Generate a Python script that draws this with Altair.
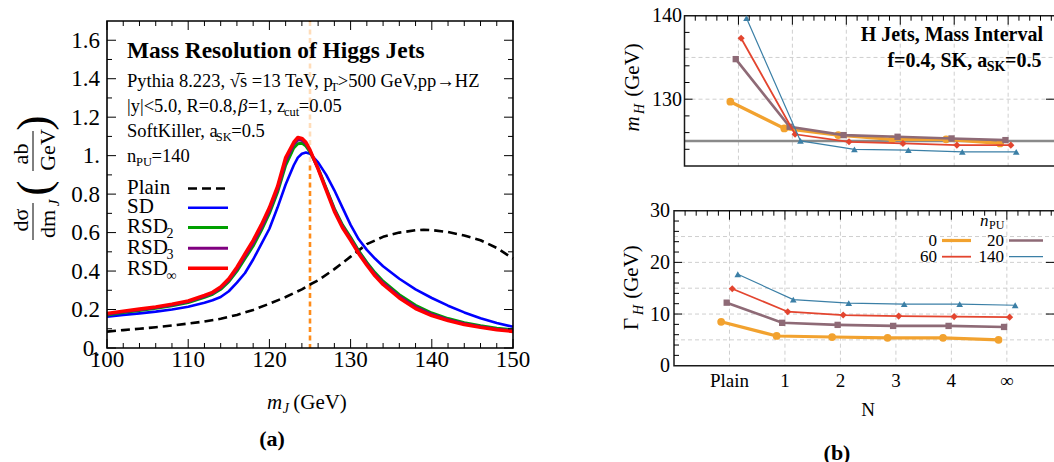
import altair as alt
import pandas as pd

SERIF = "Liberation Serif"

# ---------------- panel (a): jet mass spectra, n_PU = 140 ----------------
m_grid = [100, 102, 104, 106, 108, 110, 112, 113, 114, 115, 116, 117, 118, 119,
          120, 121, 122, 123, 123.5, 124, 124.5, 125, 126, 127, 128, 129, 130,
          131, 132, 133, 134, 136, 138, 140, 142, 144, 146, 148, 150]
sd = [0.163, 0.172, 0.180, 0.189, 0.200, 0.214, 0.235, 0.248, 0.265, 0.295, 0.340, 0.390, 0.460, 0.540,
      0.620, 0.730, 0.850, 0.950, 0.990, 1.010, 1.016, 1.010, 0.965, 0.900, 0.820, 0.730, 0.640,
      0.565, 0.510, 0.465, 0.425, 0.360, 0.305, 0.260, 0.220, 0.185, 0.155, 0.130, 0.110]
rsd2 = [0.172, 0.184, 0.195, 0.206, 0.219, 0.236, 0.263, 0.279, 0.305, 0.345, 0.400, 0.465, 0.530, 0.610,
        0.700, 0.810, 0.950, 1.040, 1.062, 1.065, 1.050, 1.020, 0.935, 0.830, 0.725, 0.640, 0.575,
        0.505, 0.445, 0.392, 0.347, 0.277, 0.222, 0.182, 0.153, 0.132, 0.116, 0.103, 0.094]
rsd3 = [0.176, 0.188, 0.199, 0.210, 0.224, 0.241, 0.269, 0.285, 0.312, 0.353, 0.410, 0.478, 0.545, 0.625,
        0.715, 0.825, 0.970, 1.060, 1.082, 1.080, 1.062, 1.026, 0.932, 0.825, 0.718, 0.632, 0.566,
        0.497, 0.437, 0.383, 0.338, 0.268, 0.213, 0.175, 0.147, 0.126, 0.111, 0.098, 0.090]
rsd_inf = [0.180, 0.192, 0.203, 0.214, 0.228, 0.245, 0.274, 0.290, 0.318, 0.360, 0.420, 0.490, 0.560, 0.640,
           0.730, 0.840, 0.990, 1.070, 1.095, 1.090, 1.070, 1.030, 0.930, 0.820, 0.710, 0.625, 0.560,
           0.490, 0.430, 0.375, 0.330, 0.260, 0.205, 0.168, 0.142, 0.122, 0.107, 0.095, 0.086]
m_plain = [100, 102, 104, 106, 108, 110, 112, 114, 116, 118, 120, 122, 124, 125, 126,
           128, 130, 132, 134, 136, 138, 139, 140, 142, 144, 146, 148, 150]
plain = [0.085, 0.093, 0.100, 0.108, 0.117, 0.127, 0.138, 0.152, 0.172, 0.198, 0.230, 0.265, 0.305, 0.330, 0.352,
         0.410, 0.475, 0.540, 0.578, 0.600, 0.612, 0.615, 0.613, 0.603, 0.585, 0.560, 0.520, 0.465]
m_higgs = 125.0

a_x_major = [100, 110, 120, 130, 140, 150]
a_x_labels = ["100", "110", "120", "130", "140", "150"]
a_x_minor = [102, 104, 106, 108, 112, 114, 116, 118, 122, 124, 126, 128,
             132, 134, 136, 138, 142, 144, 146, 148]
a_y_major = [0, 0.2, 0.4, 0.6, 0.8, 1.0, 1.2, 1.4, 1.6]
a_y_labels = ["0.", "0.2", "0.4", "0.6", "0.8", "1.", "1.2", "1.4", "1.6"]
a_y_minor = [0.1, 0.3, 0.5, 0.7, 0.9, 1.1, 1.3, 1.5]

# ---------------- panel (b): fitted peak position and width ----------------
n_labels = ["Plain", "1", "2", "3", "4", "∞"]
pileup = ["0", "20", "60", "140"]
peak_mass = {
    "0":   [129.7, 126.5, 125.7, 125.2, 125.2, 124.7],
    "20":  [134.8, 126.7, 125.7, 125.5, 125.3, 125.1],
    "60":  [137.3, 125.8, 124.9, 124.7, 124.5, 124.5],
    "140": [139.7, 125.0, 124.0, 123.9, 123.7, 123.7],
}
peak_width = {
    "0":   [8.5, 5.75, 5.55, 5.4, 5.4, 5.0],
    "20":  [12.2, 8.3, 7.9, 7.7, 7.7, 7.5],
    "60":  [14.9, 10.45, 9.8, 9.6, 9.5, 9.4],
    "140": [17.7, 12.8, 12.1, 11.9, 11.9, 11.7],
}
m_ref = 125.0
top_y_labels = [130, 140]
top_grid = [130, 135]
bot_y_labels = [0, 10, 20, 30]
bot_grid = [5, 10, 15, 20, 25]

# marker / line style for each pile-up level
style = {
    "0":   dict(color="#F2A22F", width=3.2, shape="circle", size=60, dx=-0.15),
    "20":  dict(color="#8E6A76", width=2.6, shape="square", size=40, dx=-0.05),
    "60":  dict(color="#E3452F", width=1.8, shape="diamond", size=50, dx=0.05),
    "140": dict(color="#3B7FA6", width=1.2, shape="triangle-up", size=45, dx=0.15),
}

# ---------------- text helpers ----------------
_W = {" ": 250, "|": 200, "<": 564, ">": 564, "=": 564, ".": 250, ",": 250, "(": 333, ")": 333,
      "√": 549, "β": 549, "σ": 549, "→": 1000, "∞": 713, "Γ": 578}
_W.update(zip("ABCDEFGHIJKLMNOPQRSTUVWXYZ",
              [722, 667, 667, 722, 611, 556, 722, 722, 333, 389, 722, 611, 889, 722, 722, 556,
               722, 667, 556, 611, 722, 722, 944, 722, 722, 611]))
_W.update(zip("abcdefghijklmnopqrstuvwxyz",
              [444, 500, 444, 500, 444, 333, 500, 500, 278, 278, 500, 278, 778, 500, 500, 500,
               500, 333, 389, 278, 500, 500, 722, 500, 500, 444]))


def text_width(s, size, bold=False):
    return sum(_W.get(ch, 500) for ch in s) / 1000.0 * size * (1.02 if bold else 0.97)


def one_row():
    return pd.DataFrame({"k": [0]})


def label(s, x, y, size, align="left", baseline="alphabetic", angle=0,
          italic=False, bold=False, color="black", weight=None):
    kw = dict(font=SERIF, fontSize=size, align=align, baseline=baseline, color=color)
    if angle:
        kw["angle"] = angle
    if italic:
        kw["fontStyle"] = "italic"
    if bold:
        kw["fontWeight"] = "bold"
    elif weight is not None:
        kw["fontWeight"] = weight
    return alt.Chart(pd.DataFrame({"t": [s]})).mark_text(**kw).encode(
        x=alt.value(x), y=alt.value(y), text="t:N")


def rich(parts, x, y, anchor="left"):
    """parts: (text, size, drop, italic, bold) pieces set on one baseline."""
    widths = [text_width(p[0], p[1], p[4]) for p in parts]
    cur = x - sum(widths) if anchor == "right" else x
    out = []
    for (s, size, drop, it, bd), w in zip(parts, widths):
        lead = len(s) - len(s.lstrip())
        out.append(label(s.strip(), cur + text_width(" " * lead, size, bd), y + drop, size,
                         italic=it, bold=bd))
        cur += w
    return out


def seg(x1, x2, y1, y2, color="black", width=1.0, dash=None):
    kw = dict(color=color, strokeWidth=width)
    if dash:
        kw["strokeDash"] = dash
    return alt.Chart(one_row()).mark_rule(**kw).encode(
        x=alt.value(x1), x2=alt.value(x2), y=alt.value(y1), y2=alt.value(y2))


def frame(x1, x2, y1, y2, color="black", width=1.5):
    return alt.Chart(one_row()).mark_rect(fillOpacity=0, stroke=color, strokeWidth=width).encode(
        x=alt.value(x1), x2=alt.value(x2), y=alt.value(y1), y2=alt.value(y2))


def ticks_x(vals, scale, y1, y2, color="black", width=1.0, dash=None):
    kw = dict(color=color, strokeWidth=width)
    if dash:
        kw["strokeDash"] = dash
    return alt.Chart(pd.DataFrame({"v": vals})).mark_rule(**kw).encode(
        x=alt.X("v:Q", scale=scale, axis=None), y=alt.value(y1), y2=alt.value(y2))


def ticks_y(vals, scale, x1, x2, color="black", width=1.0, dash=None):
    kw = dict(color=color, strokeWidth=width)
    if dash:
        kw["strokeDash"] = dash
    return alt.Chart(pd.DataFrame({"v": vals})).mark_rule(**kw).encode(
        y=alt.Y("v:Q", scale=scale, axis=None), x=alt.value(x1), x2=alt.value(x2))


def labels_x(vals, texts, scale, y, size):
    return alt.Chart(pd.DataFrame({"v": vals, "t": texts})).mark_text(
        font=SERIF, fontSize=size, align="center", baseline="alphabetic", color="black").encode(
        x=alt.X("v:Q", scale=scale, axis=None), y=alt.value(y), text="t:N")


def labels_y(vals, texts, scale, x, size, drop):
    return alt.Chart(pd.DataFrame({"v": vals, "t": texts})).mark_text(
        font=SERIF, fontSize=size, align="right", baseline="alphabetic", dy=drop, color="black").encode(
        y=alt.Y("v:Q", scale=scale, axis=None), x=alt.value(x), text="t:N")


# ---------------- panel (a) ----------------
xA = alt.Scale(domain=[100, 150], range=[107, 513], nice=False, zero=False)
yA = alt.Scale(domain=[0, 1.7], range=[348, 21], nice=False, zero=False)


def spectrum(ms, vs, color, width, dash=None):
    kw = dict(color=color, strokeWidth=width, strokeJoin="round")
    if dash:
        kw["strokeDash"] = dash
    return alt.Chart(pd.DataFrame({"m": ms, "v": vs})).mark_line(**kw).encode(
        x=alt.X("m:Q", scale=xA, axis=None), y=alt.Y("v:Q", scale=yA, axis=None))


A_L, A_R, A_T, A_B = 107, 513, 21, 348
panel_a = [
    ticks_x([m_higgs], xA, A_T, A_B, color="#FF8C1A", width=2.6, dash=[5, 3.5]),
    alt.Chart(one_row()).mark_rect(color="white", opacity=0.7).encode(
        x=alt.value(120), x2=alt.value(500), y=alt.value(22), y2=alt.value(164)),
    spectrum(m_plain, plain, "black", 2.6, dash=[9, 5]),
    spectrum(m_grid, sd, "#0000FF", 2.6),
    spectrum(m_grid, rsd2, "#00A000", 3.0),
    spectrum(m_grid, rsd3, "#800080", 3.0),
    spectrum(m_grid, rsd_inf, "#FF0000", 3.4),
    frame(A_L, A_R, A_T, A_B, width=1.6),
    ticks_x(a_x_major, xA, A_B, A_B - 9), ticks_x(a_x_minor, xA, A_B, A_B - 5),
    ticks_x(a_x_major, xA, A_T, A_T + 9), ticks_x(a_x_minor, xA, A_T, A_T + 5),
    ticks_y(a_y_major, yA, A_L, A_L + 9), ticks_y(a_y_minor, yA, A_L, A_L + 5),
    ticks_y(a_y_major, yA, A_R, A_R - 9), ticks_y(a_y_minor, yA, A_R, A_R - 5),
    labels_x(a_x_major, a_x_labels, xA, 367, 23),
    labels_y(a_y_major, a_y_labels, yA, 100, 23, 7.5),
]
panel_a = alt.layer(*panel_a)

# ---------------- panel (b), top: m_H ----------------
xT = alt.Scale(domain=[-1, 5.85], range=[684.5, 1054], nice=False, zero=False)
yT = alt.Scale(domain=[122, 140], range=[166, 15.7], nice=False, zero=False)
xB = alt.Scale(domain=[-1, 5.85], range=[674, 1054], nice=False, zero=False)
yB = alt.Scale(domain=[0, 30], range=[365.7, 210.7], nice=False, zero=False)

cat_pos = list(range(len(n_labels)))
top_minor = [round(-0.8 + 0.2 * i, 1) for i in range(34) if abs(-0.8 + 0.2 * i - round(-0.8 + 0.2 * i)) > 1e-6]


def fit_series(values, key, xs, ys):
    st = style[key]
    df = pd.DataFrame({"n": [i + st["dx"] for i in range(len(values))], "v": values})
    enc = dict(x=alt.X("n:Q", scale=xs, axis=None), y=alt.Y("v:Q", scale=ys, axis=None))
    line = alt.Chart(df).mark_line(color=st["color"], strokeWidth=st["width"]).encode(**enc)
    pts = alt.Chart(df).mark_point(shape=st["shape"], size=st["size"], filled=True,
                                   color=st["color"], opacity=1).encode(**enc)
    return [line, pts]


T_L, T_R, T_T, T_B = 684.5, 1056, 15.7, 166
GRID = dict(color="#cfcfcf", width=1.0, dash=[4, 3])
panel_top = [
    ticks_x(cat_pos, xT, T_T, T_B, **GRID),
    ticks_y(top_grid, yT, T_L, T_R, **GRID),
    ticks_y([m_ref], yT, T_L, T_R, color="#8a8a8a", width=2.6),
    frame(T_L, T_R, T_T, T_B, color="#1a1a1a", width=1.5),
    ticks_x(cat_pos, xT, T_T, T_T + 9), ticks_x(top_minor, xT, T_T, T_T + 5),
    ticks_y([124, 126, 128, 132, 134, 136, 138], yT, T_L, T_L + 5),
    ticks_y([130], yT, T_L, T_L + 8),
    ticks_y([130], yT, 1054, 1046),
    labels_y(top_y_labels, [str(v) for v in top_y_labels], yT, 682, 20, 6.5),
]
for key in pileup:
    panel_top += fit_series(peak_mass[key], key, xT, yT)
panel_top = alt.layer(*panel_top)

# ---------------- panel (b), bottom: Gamma_H ----------------
B_L, B_R, B_T, B_B = 674, 1056, 210.7, 365.7
panel_bot = [
    ticks_x(cat_pos, xB, B_T, B_B, **GRID),
    ticks_y(bot_grid, yB, B_L, B_R, **GRID),
    frame(B_L, B_R, B_T, B_B, color="#1a1a1a", width=1.5),
    ticks_x(cat_pos, xB, B_T, B_T + 9), ticks_x(top_minor, xB, B_T, B_T + 5),
    ticks_y([2, 4, 6, 8, 12, 14, 16, 18, 22, 24, 26, 28], yB, B_L, B_L + 5),
    ticks_y([10, 20], yB, B_L, B_L + 8),
    ticks_y([10, 20], yB, 1054, 1046),
    labels_y(bot_y_labels, [str(v) for v in bot_y_labels], yB, 670, 20, 6.5),
    labels_x(cat_pos, n_labels, xB, 387, 19),
]
for key in pileup:
    panel_bot += fit_series(peak_width[key], key, xB, yB)
panel_bot = alt.layer(*panel_bot)

# ---------------- annotations ----------------
INFO = 18.5
notes = []
# header block of panel (a)
notes.append(label("Mass Resolution of Higgs Jets", 127, 58, 23.4, bold=True))
notes += rich([("Pythia 8.223, √s =13 TeV, p", INFO, 0, False, False), ("T", 12.5, 4, False, False),
               (">500 GeV,pp→HZ", INFO, 0, False, False)], 127, 87)
# bar over the s under the square root
_s0 = 127 + text_width("Pythia 8.223, √", INFO)
notes.append(seg(_s0, _s0 + text_width("s", INFO) + 1, 73.5, 73.5, "black", 1.0))
notes += rich([("|y|<5.0, R=0.8, ", INFO, 0, False, False), ("β", INFO, 0, True, False),
               ("=1, z", INFO, 0, False, False), ("cut", 12.5, 4, False, False),
               ("=0.05", INFO, 0, False, False)], 127, 112)
notes += rich([("SoftKiller, a", INFO, 0, False, False), ("SK", 12.5, 4, False, False),
               ("=0.5", INFO, 0, False, False)], 127, 137)
notes += rich([("n", INFO, 0, False, False), ("PU", 12.5, 4, False, False),
               ("=140", INFO, 0, False, False)], 127, 162)

# legend of panel (a)
notes.append(label("Plain", 127, 194, 21))
notes.append(label("SD", 127, 213, 21))
notes += rich([("RSD", 21, 0, False, False), ("2", 14, 5, False, False)], 127, 233)
notes += rich([("RSD", 21, 0, False, False), ("3", 14, 5, False, False)], 127, 254)
notes += rich([("RSD", 21, 0, False, False), ("∞", 14, 5, False, False)], 127, 275)
notes.append(seg(188, 228, 188.5, 188.5, "black", 2.6, dash=[9, 5]))
notes.append(seg(188, 228, 207.7, 207.7, "#0000FF", 2.6))
notes.append(seg(188, 228, 227.5, 227.5, "#00A000", 3.0))
notes.append(seg(188, 228, 248.3, 248.3, "#800080", 3.0))
notes.append(seg(188, 228, 268.3, 268.3, "#FF0000", 3.4))

# axis titles of panel (a)
notes.append(label("dσ", 20.5, 220, 22, align="center", baseline="middle", angle=270))
notes.append(seg(33, 33, 203, 240, "black", 1.0))
notes.append(label("dm", 47.5, 224, 22, align="center", baseline="middle", angle=270))
notes.append(label("J", 54, 203, 15, align="center", baseline="middle", angle=270, italic=True))
notes.append(label("(", 35, 188, 46, align="center", baseline="middle", angle=270, weight=300))
notes.append(label("ab", 20.5, 154, 22, align="center", baseline="middle", angle=270))
notes.append(seg(33, 33, 131, 171, "black", 1.0))
notes.append(label("GeV", 47.5, 150, 22, align="center", baseline="middle", angle=270))
notes.append(label(")", 35, 123, 46, align="center", baseline="middle", angle=270, weight=300))
notes += rich([("m", 21, 0, True, False), ("J", 14, 4, True, False),
               (" (GeV)", 21, 0, False, False)], 267, 409)
notes.append(label("(a)", 272, 446, 22, align="center", bold=True))

# panel (b) texts
notes.append(label("H Jets, Mass Interval", 1043, 41, 20, align="right", bold=True))
notes += rich([("f=0.4, SK, a", 20, 0, False, True), ("SK", 14, 4, False, True),
               ("=0.5", 20, 0, False, True)], 1042, 67, anchor="right")
notes.append(label("m", 633, 124, 21, align="center", baseline="middle", angle=270, italic=True))
notes.append(label("H", 639.5, 109, 14, align="center", baseline="middle", angle=270, italic=True))
notes.append(label("(GeV)", 633, 70, 21, align="center", baseline="middle", angle=270))
notes.append(label("Γ", 632, 324, 21, align="center", baseline="middle", angle=270))
notes.append(label("H", 638.5, 310, 14, align="center", baseline="middle", angle=270, italic=True))
notes.append(label("(GeV)", 632, 272, 21, align="center", baseline="middle", angle=270))
notes.append(label("N", 868, 416, 19, align="center"))
notes.append(label("(b)", 837, 460, 22, align="center", bold=True))

# pile-up legend of panel (b)
notes.append(label("n", 980, 226, 17, italic=True))
notes.append(label("PU", 989, 229, 12))
for key, (tx, ty, lx1, lx2, ly) in zip(
        pileup, [(937, 246, 942, 971, 240.5), (1004, 246, 1009, 1043, 240.5),
                 (937, 262, 942, 971, 256.7), (1004, 262, 1009, 1043, 256.7)]):
    notes.append(label(key, tx, ty, 17, align="right"))
    notes.append(seg(lx1, lx2, ly, ly, style[key]["color"], style[key]["width"]))
notes = alt.layer(*notes)

chart = alt.layer(panel_a, panel_top, panel_bot, notes).resolve_scale(
    x="independent", y="independent"
).properties(
    width=1054, height=462, padding=0,
    autosize=alt.AutoSizeParams(type="none"),
    background="white",
).configure_view(stroke=None)

chart.save("out.html", embed_options={"renderer": "svg", "actions": False})
